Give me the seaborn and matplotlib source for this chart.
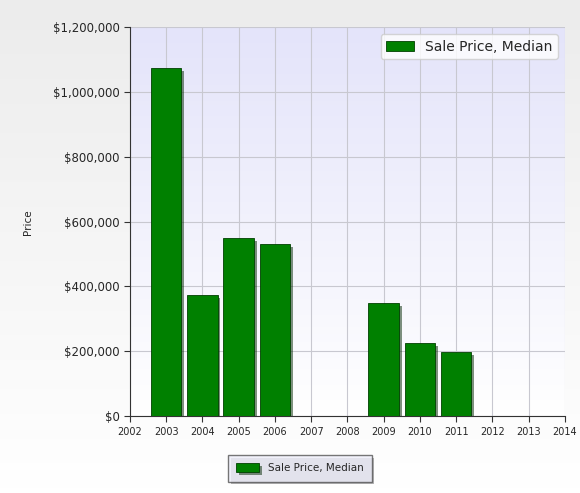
import numpy as np
import matplotlib
matplotlib.use("Agg")
import matplotlib.pyplot as plt
import matplotlib.patheffects as pe
import seaborn as sns
from matplotlib.ticker import FuncFormatter

years = [2003, 2004, 2005, 2006, 2009, 2010, 2011]
prices = [1073000, 373000, 549000, 530000, 349000, 225000, 197000]
xticks = list(range(2002, 2015))

sns.set_style("white")
plt.rcParams['font.family'] = ['DejaVu Sans']

fig = plt.figure(figsize=(5.8, 4.93), dpi=100)
# figure background gradient
bg = fig.add_axes([0, 0, 1, 1], zorder=-10)
g = np.linspace(0, 1, 100).reshape(-1, 1)
bg.imshow(g, aspect='auto', cmap=matplotlib.colors.LinearSegmentedColormap.from_list(
    'f', ['#ececec', '#ffffff']), extent=[0, 1, 0, 1], origin='upper')
bg.axis('off')

ax = fig.add_axes([0.224, 0.156, 0.75, 0.789])
ax.imshow(g, aspect='auto', cmap=matplotlib.colors.LinearSegmentedColormap.from_list(
    'a', ['#e4e4fa', '#ffffff']), extent=[2002, 2014, 0, 1200000], origin='upper', zorder=0)

sns.barplot(x=years, y=prices, native_scale=True, width=0.84, color='#008000',
            saturation=1, edgecolor='#004000', linewidth=0.6, ax=ax, zorder=3,
            label='Sale Price, Median')
for p in ax.patches:
    p.set_path_effects([pe.SimplePatchShadow(offset=(2, -2), alpha=0.5), pe.Normal()])

ax.set_xlim(2002, 2014)
ax.set_ylim(0, 1200000)
ax.set_xticks(xticks)
ax.set_xticklabels([str(x) for x in xticks], fontsize=7)
ax.set_yticks(np.arange(0, 1200001, 200000))
ax.yaxis.set_major_formatter(FuncFormatter(lambda v, _: f"${v:,.0f}"))
ax.tick_params(axis='y', labelsize=8.5, length=4, left=True, color='#333333')
ax.tick_params(axis='x', length=4, bottom=True, color='#333333')
ax.grid(True, color='#c8c8d0', linewidth=0.8, zorder=1)
ax.set_axisbelow(True)
for s in ['top', 'right']:
    ax.spines[s].set_visible(False)
for s in ['left', 'bottom']:
    ax.spines[s].set_color('#333333')
ax.set_ylabel('')
ax.set_xlabel('')
fig.text(0.048, 0.55, 'Price', rotation=90, fontsize=7.5, ha='center', va='center')

handles, labels = ax.get_legend_handles_labels()
leg = fig.legend(handles, labels, loc='center', bbox_to_anchor=(0.517, 0.05), fontsize=7.5,
                 frameon=True, fancybox=False, edgecolor='#555555', borderpad=0.8,
                 handlelength=2.2, handleheight=0.9)
leg.get_frame().set_facecolor('#eeeefa')
leg.get_frame().set_path_effects([pe.SimplePatchShadow(offset=(2, -2), alpha=0.4), pe.Normal()])

fig.savefig('out.png', dpi=100)
